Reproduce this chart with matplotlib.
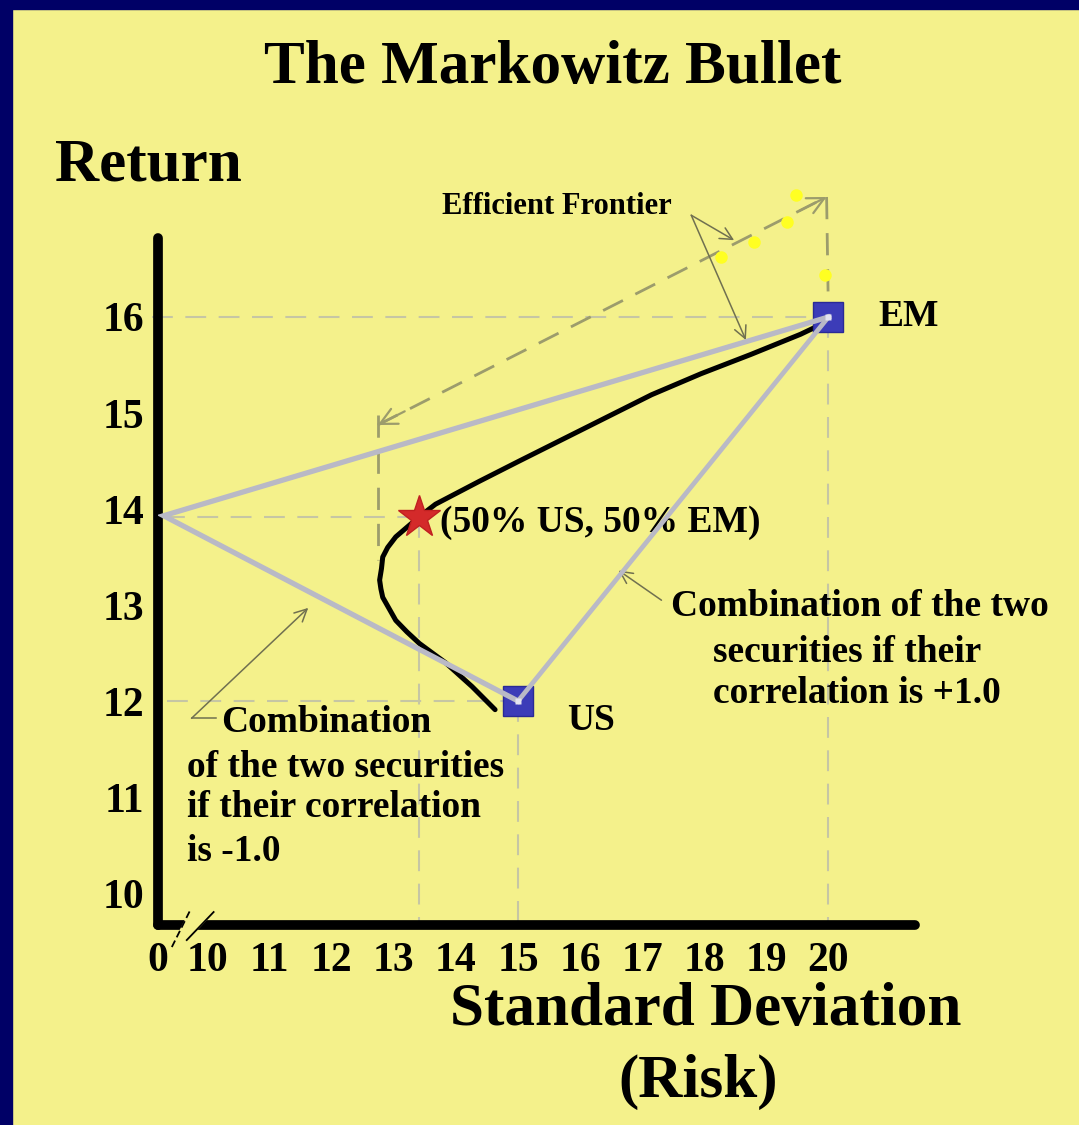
import matplotlib.pyplot as plt
from matplotlib.patches import Rectangle, Polygon

# --- values ---
us = (15, 12)          # (std dev, return)
em = (20, 16)
star = (13.41, 13.92)  # 50% US / 50% EM portfolio
zero_pos = 9.29        # where 0 sits on the broken x axis
zero_label = 9.20

# hand-drawn bullet, read point by point (EM end first)
bullet_sd = [19.97, 19.55, 18.75, 17.95, 17.15, 16.07, 15.02, 14.38, 13.67, 13.41,
             13.03, 12.90, 12.82, 12.80, 12.77, 12.79, 12.82, 13.03, 13.21, 13.41,
             13.83, 14.26, 14.63]
bullet_ret = [15.95, 15.82, 15.61, 15.41, 15.19, 14.84, 14.50, 14.29, 14.05, 13.92,
              13.71, 13.60, 13.50, 13.38, 13.26, 13.17, 13.08, 12.84, 12.72, 12.60,
              12.40, 12.15, 11.91]

# dashed efficient-frontier arrow and its yellow dots
ef_start = (12.74, 14.875)
ef_end = (19.97, 17.25)
ef_drop = 13.47
dots_sd = [18.27, 18.80, 19.34, 19.47, 19.95]
dots_ret = [16.63, 16.78, 16.99, 17.27, 16.44]

x_ticks = [zero_label] + list(range(10, 21))
x_labels = ['0'] + [str(v) for v in range(10, 21)]
y_ticks = list(range(10, 17))

# colours
bg = '#f4f18b'
navy = '#000066'
gray = '#b9b9c6'
guide = '#c6c6a4'
olive = '#9c9c6c'
blue = '#3c3cb8'

plt.rcParams['font.family'] = ['Liberation Serif', 'DejaVu Serif']
plt.rcParams['font.weight'] = 'bold'

W, H = 1079, 1125
fig = plt.figure(figsize=(W / 100, H / 100), dpi=100, facecolor=bg)
fig.patches.append(Rectangle((0, 1 - 9 / H), 1, 9 / H, transform=fig.transFigure,
                             color=navy, zorder=0))
fig.patches.append(Rectangle((0, 0), 12 / W, 1, transform=fig.transFigure,
                             color=navy, zorder=0))

ax = fig.add_axes([158 / W, 1 - 925 / H, 757 / W, 745 / H])
ax.set_facecolor('none')
ax.set_xlim(9.263, 21.394)
ax.set_ylim(9.667, 17.427)

for s in ['top', 'right']:
    ax.spines[s].set_visible(False)
for s in ['left', 'bottom']:
    ax.spines[s].set_linewidth(7)
    ax.spines[s].set_capstyle('round')
ax.spines['left'].set_bounds(9.667, 16.823)

ax.set_xticks(x_ticks, x_labels)
ax.set_yticks(y_ticks)
ax.tick_params(length=0, labelsize=30)
ax.tick_params(axis='x', pad=12)
ax.tick_params(axis='y', pad=10)

# axis break "//"
ax.add_patch(Polygon([(9.55, 9.60), (9.80, 9.60), (9.99, 9.73), (9.65, 9.73)],
                     closed=True, color=bg, zorder=5, clip_on=False))
ax.plot([9.423, 9.728], [9.4375, 9.833], color='black', lw=1.3, ls=(0, (4, 2)),
        zorder=6, clip_on=False)
ax.plot([9.663, 10.096], [9.51, 9.802], color='black', lw=1.3, zorder=6, clip_on=False)

# light dashed guides
dash = (0, (10, 6))
ax.plot([9.1, em[0]], [em[1], em[1]], color=guide, lw=1.5, ls=dash, clip_on=False, zorder=1)
ax.plot([zero_pos, star[0]], [star[1], star[1]], color=guide, lw=1.5, ls=dash, zorder=1)
ax.plot([9.35, us[0]], [us[1], us[1]], color=guide, lw=1.5, ls=dash, zorder=1)
ax.plot([em[0], em[0]], [em[1], 9.667], color=guide, lw=1.5, ls=dash, zorder=1)
ax.plot([us[0], us[0]], [us[1], 9.667], color=guide, lw=1.5, ls=dash, zorder=1)
ax.plot([star[0], star[0]], [star[1], 9.667], color=guide, lw=1.5, ls=dash, zorder=1)

# efficient frontier dashed double arrow
ax.plot([ef_start[0], ef_end[0]], [ef_start[1], ef_end[1]], color=olive, lw=2,
        ls=(0, (8, 5)), zorder=2)
ax.plot([ef_end[0], em[0]], [ef_end[1], em[1]], color=olive, lw=2, ls=(0, (8, 5)), zorder=2)
ax.plot([ef_start[0], ef_start[0]], [ef_start[1] + 0.1, ef_drop], color=olive, lw=2,
        ls=(0, (8, 5)), zorder=2)
for tip, back in [(ef_end, ef_start), (ef_start, ef_end)]:
    bx = tip[0] + 0.06 * (back[0] - tip[0])
    by = tip[1] + 0.06 * (back[1] - tip[1])
    ax.annotate('', xy=tip, xytext=(bx, by),
                arrowprops=dict(arrowstyle='->', color=olive, lw=1.6,
                                mutation_scale=30, shrinkA=0, shrinkB=0))
ax.plot(dots_sd, dots_ret, 'o', color='#ffff22', ms=9, mec='none', zorder=3)

# bullet
ax.plot(bullet_sd, bullet_ret, color='black', lw=3.6, solid_joinstyle='round',
        solid_capstyle='round', zorder=4)

# securities
ax.plot(*zip(us, em), 's', color=blue, ms=21, mec='#2a2a96', zorder=5)

# combinations at correlation -1 and +1
ax.plot([em[0], zero_pos, us[0]], [em[1], star[1] + 0.01, us[1]], color=gray, lw=3.8,
        solid_joinstyle='miter', zorder=6)
ax.plot([us[0], em[0]], [us[1], em[1]], color=gray, lw=3.4, zorder=6)
ax.plot(*zip(us, em), 's', color='#e4e4f0', ms=5, mec='none', zorder=7)

ax.plot(*star, marker='*', color='#d42a2a', ms=32, mec='#c02020', zorder=8)

# labels
big = dict(fontsize=44, fontweight='bold')
fig.text(553 / W, 1 - 68 / H, 'The Markowitz Bullet', ha='center', va='center', **big)
fig.text(55 / W, 1 - 165 / H, 'Return', ha='left', va='center', **big)
fig.text(706 / W, 1 - 1010 / H, 'Standard Deviation', ha='center', va='center', **big)
fig.text(698 / W, 1 - 1082 / H, '(Risk)', ha='center', va='center', **big)

mid = dict(fontsize=27, fontweight='bold', va='center', ha='left')
ax.text(20.80, 16.0, 'EM', **mid)
ax.text(15.79, 11.80, 'US', **mid)
ax.text(13.75, 13.86, '(50% US, 50% EM)', **mid)
ax.text(13.78, 17.15, 'Efficient Frontier', fontsize=22, fontweight='bold',
        va='center', ha='left')

ax.text(17.47, 12.98, 'Combination of the two', **mid)
ax.text(18.14, 12.51, 'securities if their', **mid)
ax.text(18.14, 12.08, 'correlation is +1.0', **mid)

ax.text(10.22, 11.78, 'Combination', **mid)
ax.text(9.66, 11.31, 'of the two securities', **mid)
ax.text(9.66, 10.89, 'if their correlation', **mid)
ax.text(9.66, 10.43, 'is -1.0', **mid)

# pointer arrows
thin = dict(arrowstyle='->', color='#707050', lw=1.1, mutation_scale=22,
            shrinkA=0, shrinkB=0)
ax.annotate('', xy=(18.48, 16.80), xytext=(17.79, 17.06), arrowprops=thin)
ax.annotate('', xy=(18.67, 15.76), xytext=(17.79, 17.06), arrowprops=thin)
ax.annotate('', xy=(16.62, 13.36), xytext=(17.31, 13.05), arrowprops=thin)
ax.annotate('', xy=(11.62, 12.97), xytext=(9.74, 11.82), arrowprops=thin)
ax.plot([9.74, 10.13], [11.82, 11.82], color='#707050', lw=1.1)

fig.savefig('out.png', dpi=100, facecolor=bg)
